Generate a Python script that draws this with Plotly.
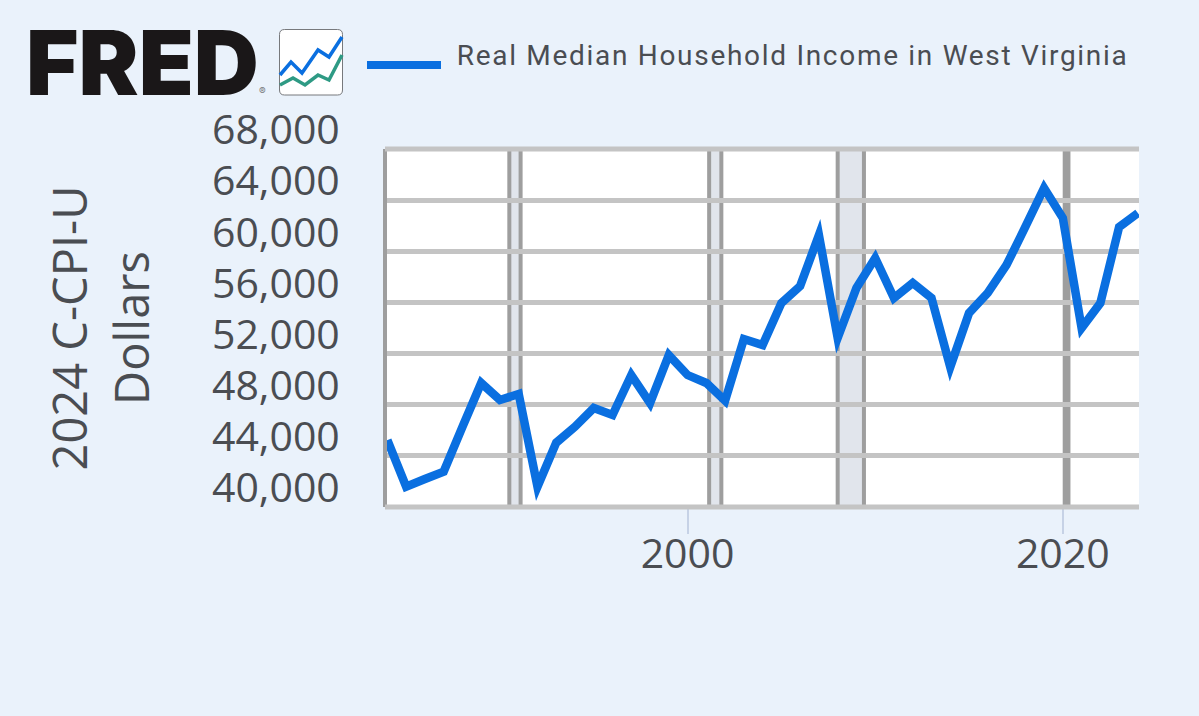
import plotly.graph_objects as go

years = list(range(1984, 2025))
income = [
    45240, 41590, 42190, 42760, 46260, 49700, 48370, 48840, 41590, 45030,
    46280, 47740, 47200, 50320, 48130, 51890, 50320, 49700, 48310, 53140,
    52670, 55950, 57280, 61270, 53220, 57130, 59470, 56350, 57520, 56350,
    50950, 55170, 56740, 58930, 61900, 64950, 62600, 54000, 55950, 61900,
    62990,
]
y_ticks = [40000, 44000, 48000, 52000, 56000, 60000, 64000, 68000]
x_ticks = [2000, 2020]
x_labels = ["2000", "2020"]
recessions = [(1990.5, 1991.1), (2001.15, 2001.8), (2008.0, 2009.4), (2020.1, 2020.3)]
series_name = "Real Median Household Income in West Virginia"
y_title = "2024 C-CPI-U<br>Dollars"

W, H = 1199, 716
L, R, T, B = 387, 1139, 149, 507
BG = "#eaf2fb"
BLUE = "#0a6fe0"
GREEN = "#2e9a84"
TEXT = "#4a4d52"
GRID = "#c4c4c4"


def px(x):
    return (x - L) / (R - L)


def py(y):
    return (B - y) / (B - T)


shapes = []
for a, b in recessions:
    shapes.append(dict(type="rect", xref="x", yref="paper", x0=a, x1=b, y0=0, y1=1,
                       fillcolor="#e1e5ec", line=dict(color="#9e9e9e", width=4), layer="below"))
# top and bottom gridlines sit on the plot edges
for edge in (0, 1):
    shapes.append(dict(type="line", xref="paper", yref="paper", x0=px(385), x1=1, y0=edge, y1=edge,
                       line=dict(color=GRID, width=5), layer="above"))


def poly(points, color, width):
    d = "M " + " L ".join(f"{px(x):.5f},{py(y):.5f}" for x, y in points)
    return dict(type="path", xref="paper", yref="paper", path=d,
                line=dict(color=color, width=width), layer="above")


# icon (rounded square)
x0, x1, y0, y1, r = 279.5, 342.5, 29.5, 95, 5
d = (f"M {px(x0+r)},{py(y0)} L {px(x1-r)},{py(y0)} Q {px(x1)},{py(y0)} {px(x1)},{py(y0+r)} "
     f"L {px(x1)},{py(y1-r)} Q {px(x1)},{py(y1)} {px(x1-r)},{py(y1)} L {px(x0+r)},{py(y1)} "
     f"Q {px(x0)},{py(y1)} {px(x0)},{py(y1-r)} L {px(x0)},{py(y0+r)} Q {px(x0)},{py(y0)} {px(x0+r)},{py(y0)} Z")
shapes.append(dict(type="path", xref="paper", yref="paper", path=d, fillcolor="white",
                   line=dict(color="#77797c", width=1), layer="above"))
shapes.append(poly([(280, 75), (291, 62), (302, 73), (318, 50), (329, 57), (342, 37)], BLUE, 3.5))
shapes.append(poly([(280, 85), (293, 78), (305, 85), (318, 75), (329, 80), (342, 55)], GREEN, 3.5))
# legend key
shapes.append(poly([(367, 65), (441, 65)], BLUE, 8))

annotations = [
    dict(text="FRED<span style='font-size:10px;font-weight:400;fill:#77797c'>®</span>", xref="paper", yref="paper",
         x=px(24), y=py(62), xanchor="left", yanchor="middle",
         showarrow=False, font=dict(family="Inter", size=90, weight=900, color="#1a1718")),
    dict(text=series_name, xref="paper", yref="paper", x=px(792), y=py(55), xanchor="center", yanchor="middle",
         showarrow=False, font=dict(family="Roboto", size=28, color=TEXT)),
]

tick_font = dict(size=41, family="Open Sans", color=TEXT)
fig = go.Figure(go.Scatter(x=years, y=income, mode="lines", name=series_name,
                           line=dict(color=BLUE, width=8.5, shape="linear"), showlegend=False))
fig.update_layout(
    width=W, height=H,
    margin=dict(l=L, r=W - R, t=T, b=H - B, pad=0),
    paper_bgcolor=BG, plot_bgcolor="white",
    font=dict(family="Open Sans", color=TEXT),
    shapes=shapes, annotations=annotations,
    xaxis=dict(range=[1983.98, 2024.06], tickvals=x_ticks, ticktext=x_labels, showgrid=False,
               ticks="outside", ticklen=26, tickwidth=2, tickcolor="#c6d2e6",
               tickfont=tick_font, zeroline=False, showline=False, ticklabelstandoff=-15),
    yaxis=dict(range=[40000, 68000], tickvals=y_ticks, tickformat=",", showgrid=True,
               gridcolor=GRID, gridwidth=5, zeroline=False, showline=True, linecolor="#9e9e9e",
               linewidth=4, ticks="", tickfont=tick_font,
               ticklabelshift=-19, ticklabelstandoff=35,
               title=dict(text=y_title, font=dict(size=47, family="Open Sans", color=TEXT), standoff=49)),
)
post = ("document.body.style.margin='0';document.body.style.background='%s';"
        "document.querySelectorAll('.annotation-text').forEach(function(t){"
        "if(t.textContent.indexOf('Real')===0){t.style.letterSpacing='1.7px';}});"
        "document.querySelectorAll('.js-line').forEach(function(l){"
        "l.style.strokeLinejoin='miter';l.style.strokeMiterlimit='10';});" % BG)
fig.write_html("out.html", config={"displayModeBar": False}, post_script=post)
